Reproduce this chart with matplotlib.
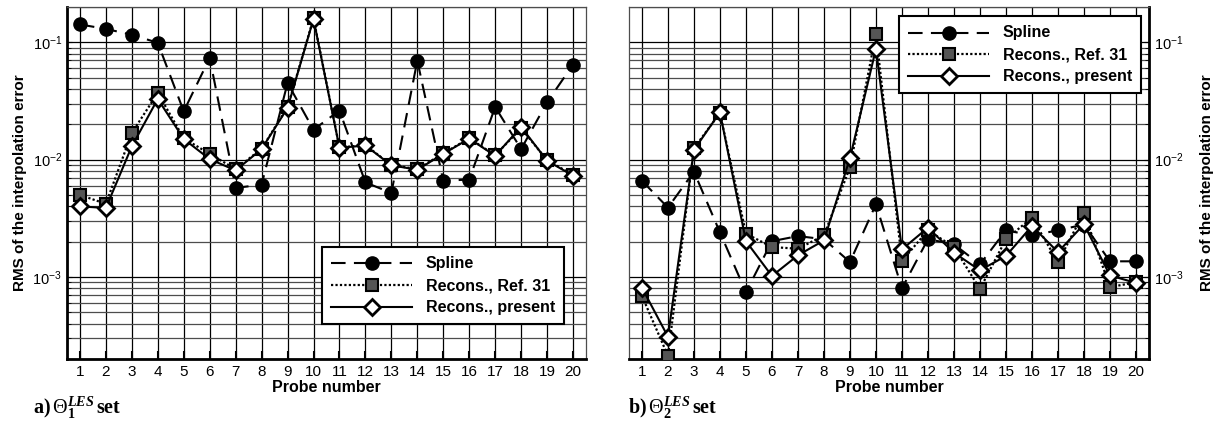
import numpy as np
import matplotlib
matplotlib.use("Agg")
from matplotlib import pyplot as plt
from matplotlib.ticker import LogLocator, NullFormatter, FixedLocator

plt.rcParams['font.family'] = ['Liberation Sans', 'DejaVu Sans']
plt.rcParams['mathtext.fontset'] = 'custom'
plt.rcParams['mathtext.rm'] = 'Liberation Serif'
plt.rcParams['mathtext.bf'] = 'Liberation Serif:bold'
plt.rcParams['mathtext.it'] = 'Liberation Serif:italic:bold'

probes = list(range(1, 21))

# panel a) Theta_1^LES set
spline_a = [0.142, 0.130, 0.116, 0.099, 0.0258, 0.0736, 0.00574, 0.00612, 0.045, 0.018,
            0.0262, 0.0064, 0.0052, 0.0698, 0.00662, 0.00676, 0.0281, 0.0123, 0.0308, 0.0646]
ref31_a = [0.0050, 0.0042, 0.0169, 0.037, 0.0152, 0.0112, 0.0083, 0.0124, 0.028, 0.160,
           0.0127, 0.0133, 0.0090, 0.0083, 0.0113, 0.0152, 0.0109, 0.0185, 0.0099, 0.0074]
present_a = [0.0040, 0.00387, 0.0130, 0.0329, 0.0150, 0.0101, 0.0081, 0.0123, 0.0276, 0.158,
             0.0126, 0.0132, 0.00895, 0.0082, 0.0112, 0.0151, 0.0108, 0.0190, 0.0098, 0.0073]

# panel b) Theta_2^LES set
spline_b = [0.0066, 0.0039, 0.0079, 0.0024, 0.00074, 0.00202, 0.00223, 0.0021, 0.00134, 0.00417,
            0.0008, 0.0021, 0.0019, 0.00128, 0.0025, 0.00226, 0.0025, 0.0028, 0.00136, 0.00136]
ref31_b = [0.00069, 0.000213, 0.0125, 0.0250, 0.00234, 0.0018, 0.00174, 0.00226, 0.0086, 0.118,
           0.00137, 0.0025, 0.0018, 0.00079, 0.0021, 0.0032, 0.00134, 0.00354, 0.00082, 0.0009]
present_b = [0.00081, 0.00031, 0.0121, 0.0253, 0.00202, 0.00102, 0.00153, 0.00205, 0.0103, 0.088,
             0.00172, 0.00263, 0.00161, 0.00114, 0.00151, 0.00272, 0.00163, 0.00281, 0.00103, 0.00089]

labels = ["Spline", "Recons., Ref. 31", "Recons., present"]
ylabel = "RMS of the interpolation error"

plt.rcParams['legend.handlelength'] = 5.8
plt.rcParams['legend.numpoints'] = 1
plt.rcParams['legend.fancybox'] = False
plt.rcParams['legend.framealpha'] = 1
plt.rcParams['legend.borderpad'] = 0.65
plt.rcParams['legend.labelspacing'] = 0.5
plt.rcParams['legend.handletextpad'] = 1.0


def draw(ax, spline, ref31, present, right):
    ax.plot(probes, spline, color='k', lw=1.5, dashes=(7, 4), marker='o', ms=9.5,
            mfc='k', mec='k', label=labels[0], zorder=3)
    ax.plot(probes, ref31, color='k', lw=1.6, linestyle=(0, (1, 1)), marker='s', ms=8,
            mfc='#555555', mec='k', mew=1.5, label=labels[1], zorder=4)
    ax.plot(probes, present, color='k', lw=1.5, linestyle='-', marker='D', ms=8.5,
            mfc='white', mec='k', mew=2, label=labels[2], zorder=5)
    ax.set_yscale('log')
    ax.set_ylim(2e-4, 0.2)
    ax.set_xlim(0.5, 20.5)
    ax.xaxis.set_major_locator(FixedLocator(probes))
    ax.yaxis.set_major_locator(LogLocator(base=10, numticks=10))
    ax.yaxis.set_minor_locator(LogLocator(base=10, subs=np.arange(2, 10), numticks=20))
    ax.yaxis.set_minor_formatter(NullFormatter())
    ax.grid(which='major', color='k', lw=0.9)
    ax.grid(which='minor', axis='y', color='0.3', lw=0.9)
    ax.set_axisbelow(True)
    ax.tick_params(axis='x', direction='in', length=6, width=1.5, labelsize=11, pad=4)
    ax.tick_params(axis='y', which='both', direction='in', labelsize=10.5)
    ax.tick_params(axis='y', which='minor', length=3)
    ax.set_xlabel("Probe number", fontsize=11.5, fontweight='bold', labelpad=1)
    ax.set_ylabel(ylabel, fontsize=11, fontweight='bold')
    for s in ax.spines.values():
        s.set_linewidth(0.9)
        s.set_color('0.3')
    ax.spines['bottom'].set_linewidth(2)
    ax.spines['bottom'].set_color('k')
    if right:
        ax.yaxis.tick_right()
        ax.yaxis.set_label_position('right')
        ax.spines['right'].set_linewidth(2)
        ax.spines['right'].set_color('k')
        leg = ax.legend(loc='upper right', bbox_to_anchor=(0.998, 0.993))
        ax.yaxis.labelpad = 12
    else:
        ax.spines['left'].set_linewidth(2)
        ax.spines['left'].set_color('k')
        leg = ax.legend(loc='lower right', bbox_to_anchor=(0.971, 0.0795))
        ax.yaxis.labelpad = 4
    leg.get_frame().set_edgecolor('k')
    leg.get_frame().set_linewidth(1.5)
    leg.get_frame().set_boxstyle('square', pad=0)
    for t in leg.get_texts():
        t.set_fontweight('bold')
        t.set_fontsize(11.5)


fig = plt.figure(figsize=(12.13, 4.23), dpi=100)
ax1 = fig.add_axes([0.0552, 0.1513, 0.4279, 0.8322])
ax2 = fig.add_axes([0.5185, 0.1513, 0.4287, 0.8322])

draw(ax1, spline_a, ref31_a, present_a, False)
draw(ax2, spline_b, ref31_b, present_b, True)

fig.text(0.027, 0.022, r"a)$\,\Theta_{\mathbf{1}}^{LES}\,$set", family=['Liberation Serif'],
         fontweight='bold', fontsize=14.5)
fig.text(0.518, 0.022, r"b)$\,\Theta_{\mathbf{2}}^{LES}\,$set", family=['Liberation Serif'],
         fontweight='bold', fontsize=14.5)

fig.savefig("out.png", dpi=100)
